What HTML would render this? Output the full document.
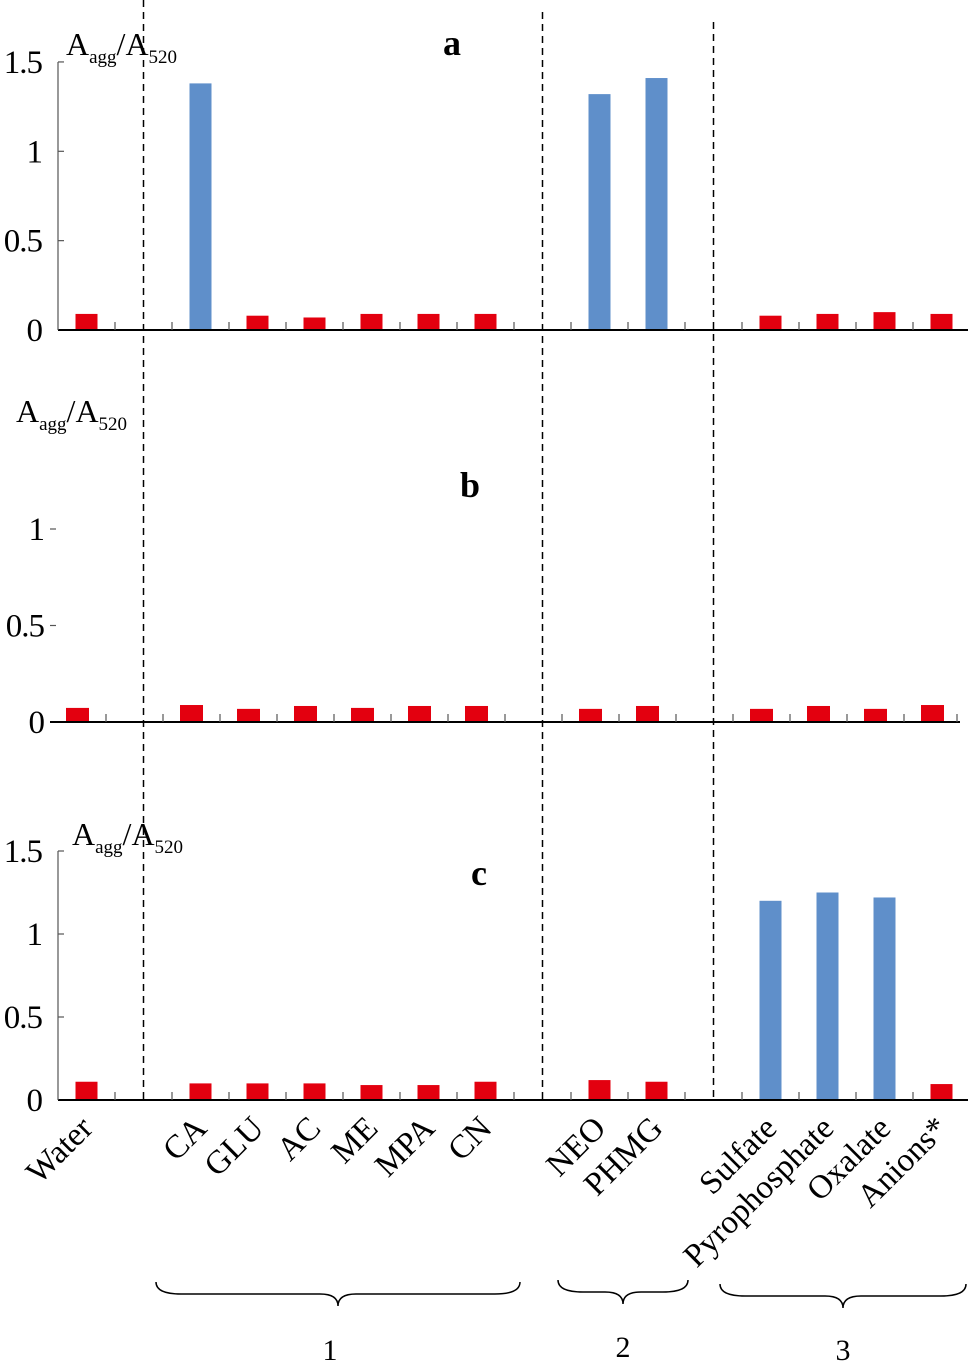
<!DOCTYPE html>
<html><head><meta charset="utf-8"><style>
html,body{margin:0;padding:0;background:#fff}
svg{display:block;font-family:"Liberation Serif",serif}
</style></head><body>
<svg id="chart" width="970" height="1366" viewBox="0 0 970 1366" xmlns="http://www.w3.org/2000/svg"></svg>
<script>
const categories = ["Water","","CA","GLU","AC","ME","MPA","CN","","NEO","PHMG","","Sulfate","Pyrophosphate","Oxalate","Anions*"];
const valuesA = [0.09,null,1.38,0.08,0.07,0.09,0.09,0.09,null,1.32,1.41,null,0.08,0.09,0.10,0.09];
const valuesB = [0.073,null,0.088,0.068,0.083,0.073,0.083,0.083,null,0.068,0.083,null,0.068,0.083,0.068,0.088];
const valuesC = [0.11,null,0.10,0.10,0.10,0.09,0.09,0.11,null,0.12,0.11,null,1.20,1.25,1.22,0.096];
const blueIdxA = [2,9,10];
const blueIdxC = [12,13,14];
const yTicksAC = ["0","0.5","1","1.5"];
const yTicksB = ["0","0.5","1"];
const groupLabels = ["1","2","3"];

const NS="http://www.w3.org/2000/svg";
const svg=document.getElementById('chart');
function el(tag,attrs,parent){const e=document.createElementNS(NS,tag);for(const k in attrs)e.setAttribute(k,attrs[k]);(parent||svg).appendChild(e);return e;}
const step=57, x0=58;
function xc(i,off){return x0+step*i+step/2+off;}

const panels=[
 {name:'a',vals:valuesA,blue:blueIdxA,base:330,scale:178.7,off:0,ticks:yTicksAC,axisLine:true,bw:22,letter:[452,55],title:[66,55]},
 {name:'b',vals:valuesB,blue:[],base:722,scale:193,off:-9,ticks:yTicksB,axisLine:false,bw:23,letter:[470,497],title:[16,422]},
 {name:'c',vals:valuesC,blue:blueIdxC,base:1100,scale:166,off:0,ticks:yTicksAC,axisLine:true,bw:22,letter:[479,885],title:[72,845]}
];
panels.forEach(p=>{
  const g=el('g',{});
  
  
  const y=v=>p.base-v*p.scale;
  p.vals.forEach((v,i)=>{
    if(v===null)return;
    const r=el('rect',{x:xc(i,p.off)-p.bw/2,y:y(v),width:p.bw,height:v*p.scale,fill:p.blue.includes(i)?'#5f8fca':'#e3000f'},g);
    
    
  });
  const xa=el('line',{x1:p.axisLine?58:50,x2:p.axisLine?968:960,y1:p.base,y2:p.base,stroke:'#000','stroke-width':2},g);
  
  
  for(let i=1;i<16;i++){
    const tx=x0+step*i+p.off;
    el('line',{x1:tx,x2:tx,y1:p.base-8,y2:p.base,stroke:'#555','stroke-width':1.2},g);
  }
  if(p.name==='b') el('line',{x1:957,x2:957,y1:p.base-8,y2:p.base,stroke:'#555','stroke-width':1.2},g);
  if(p.axisLine){
    const ya=el('line',{x1:58,x2:58,y1:y(1.5),y2:p.base,stroke:'#555','stroke-width':1.2},g);
    
    
  }
  p.ticks.forEach((t,k)=>{
    const v=parseFloat(t), ty=y(v);
    if(k>0) el('line',{x1:p.axisLine?58:50,x2:p.axisLine?64:56,y1:ty,y2:ty,stroke:'#555','stroke-width':1.2},g);
    const tt=el('text',{x:p.axisLine?42:44,y:ty+11,'text-anchor':'end','font-size':33,'letter-spacing':'-1'},g);
    tt.textContent=t;
    
    
  });
  const title=el('text',{x:p.title[0],y:p.title[1],'font-size':32},g);
  title.innerHTML='A<tspan font-size="19" dy="8">agg</tspan><tspan dy="-8">/A</tspan><tspan font-size="19" dy="8">520</tspan>';
  
  
  const lt=el('text',{x:p.letter[0],y:p.letter[1],'text-anchor':'middle','font-size':36,'font-weight':'bold'},g);
  lt.textContent=p.name;
  
  
});
[[1,0],[8,12],[11,22]].forEach(([i,top])=>{
  const d=el('line',{x1:xc(i,0),x2:xc(i,0),y1:top,y2:1100,stroke:'#000','stroke-width':1.5,'stroke-dasharray':'7,5'});
  
  
});
categories.forEach((c,i)=>{
  if(!c)return;
  const cx=xc(i,0)+8, cy=1130;
  const t=el('text',{x:cx,y:cy,'text-anchor':'end','font-size':33,transform:`rotate(-45 ${cx} ${cy})`});
  t.textContent=c;
  
  
});
function brace(x1,x2,y,name,label,ly){
  const m=(x1+x2)/2;
  const p=el('path',{d:`M${x1},${y-12} Q${x1},${y} ${x1+25},${y} L${m-18},${y} Q${m},${y} ${m},${y+12} Q${m},${y} ${m+18},${y} L${x2-25},${y} Q${x2},${y} ${x2},${y-12}`,fill:'none',stroke:'#000','stroke-width':1.5});
  
  
  const t=el('text',{x:label==='1'?330:m,y:ly,'text-anchor':'middle','font-size':30});
  t.textContent=label;
  
  
}
brace(156,520,1294,'brace-group-1',groupLabels[0],1360);
brace(558,688,1292,'brace-group-2',groupLabels[1],1357);
brace(720,966,1296,'brace-group-3',groupLabels[2],1360);
</script>
</body></html>
